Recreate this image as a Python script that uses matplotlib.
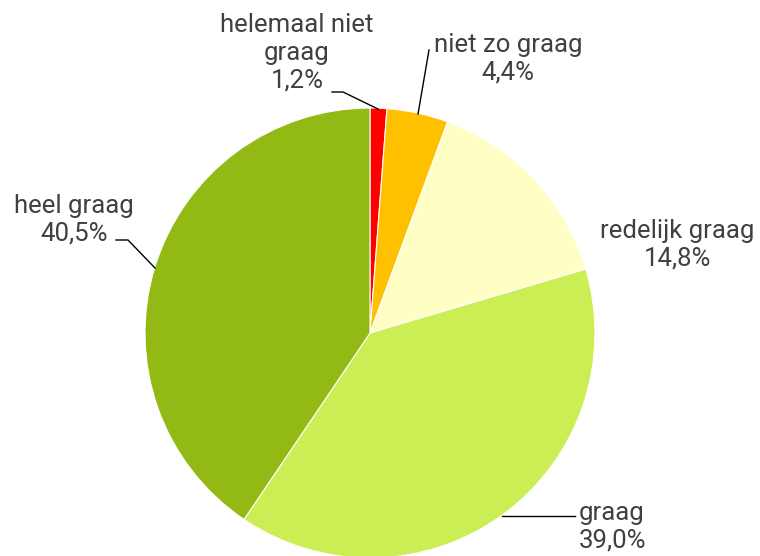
import matplotlib.pyplot as plt

labels = ['helemaal niet\ngraag', 'niet zo graag', 'redelijk graag', 'graag', 'heel graag']
values = [1.2, 4.4, 14.8, 39.0, 40.5]
colors = ['#FF0000', '#FFC000', '#FFFFC5', '#CCEE55', '#93BA14']

plt.rcParams['font.family'] = ['Roboto', 'DejaVu Sans']

fig = plt.figure(figsize=(7.6, 5.56), dpi=100)
ax = fig.add_axes([0, 0, 1, 1])

cx, cy, r = 370, 556 - 333, 225
ax.pie(values, colors=colors, startangle=90, counterclock=False,
       center=(cx, cy), radius=r, frame=True,
       wedgeprops=dict(edgecolor='white', linewidth=0.8))
ax.set_xlim(0, 760)
ax.set_ylim(0, 556)
ax.set_aspect('equal')
ax.axis('off')

txt = dict(color='#404040', fontsize=18.5, linespacing=1.2)

def Y(y):
    return 556 - y

texts = [f'{l}\n{v:.1f}%'.replace('.', ',') for l, v in zip(labels, values)]
# label positions (pixel space, y down) and leader lines
ax.text(297, Y(53), texts[0], ha='center', va='center', **txt)
ax.plot([332, 343, 378], [Y(92), Y(92), Y(109)], color='black', lw=1)

ax.text(508, Y(59), texts[1], ha='center', va='center', **txt)
ax.plot([429, 418], [Y(50), Y(114)], color='black', lw=1)

ax.text(677, Y(245), texts[2], ha='center', va='center', **txt)

ax.text(612, Y(527), texts[3], ha='center', va='center', **txt)
ax.plot([502, 575], [Y(516), Y(516)], color='black', lw=1)

ax.text(74, Y(220), texts[4], ha='center', va='center', **txt)
ax.plot([116, 128, 155], [Y(240), Y(240), Y(268)], color='black', lw=1)

fig.savefig('out.png', dpi=100)
